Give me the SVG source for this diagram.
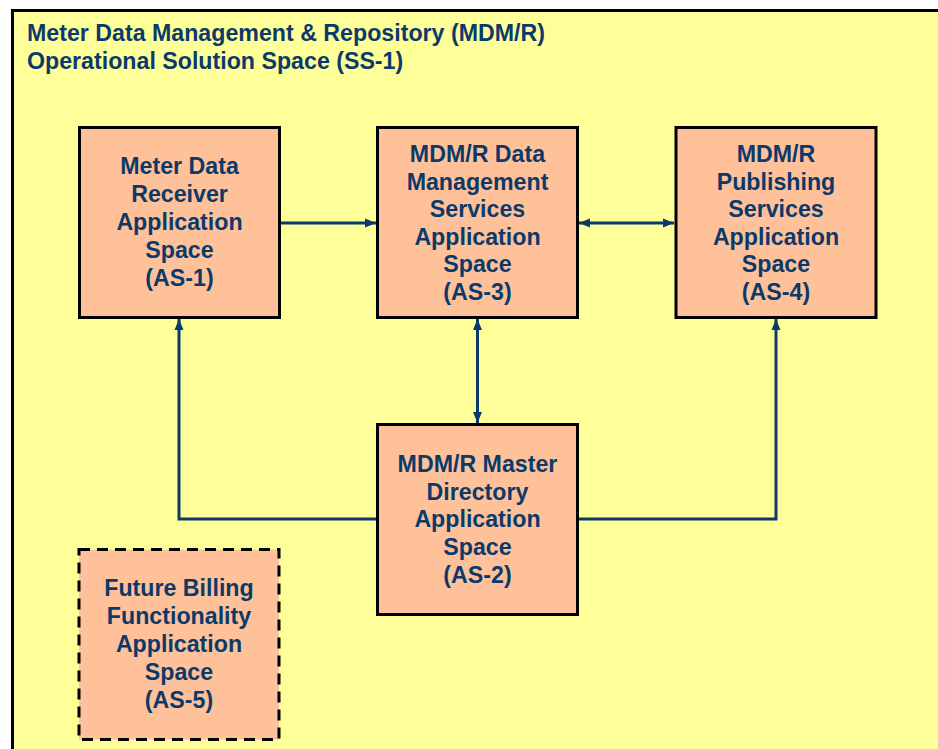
<svg xmlns="http://www.w3.org/2000/svg" width="938" height="749" viewBox="0 0 938 749">
<defs>
<marker id="arr" viewBox="0 0 11 10" refX="11" refY="5" markerWidth="11" markerHeight="10" markerUnits="userSpaceOnUse" orient="auto-start-reverse">
<path d="M0,0.5 L11,5 L0,9.5 Z" fill="#0B3A6A"/>
</marker>
</defs>
<style>
.node{fill:#FFC199;stroke:#000;stroke-width:3}
.dash{stroke-dasharray:11 7}
.t{font-family:"Liberation Sans",Arial,sans-serif;font-weight:bold;font-size:23.2px;fill:#0B3A6A;text-anchor:middle}
.title{font-family:"Liberation Sans",Arial,sans-serif;font-weight:bold;font-size:23.2px;fill:#0B3A6A}
.c{fill:none;stroke:#0B3A6A;stroke-width:3}
</style>
<rect x="0" y="0" width="938" height="749" fill="#fff"/>
<rect id="ss1" x="12.5" y="10.5" width="940" height="760" fill="#FFFF99" stroke="#000" stroke-width="3"/>
<text class="title" x="27" y="41">Meter Data Management &amp; Repository (MDM/R)</text>
<text class="title" x="27" y="69">Operational Solution Space (SS-1)</text>
<g id="connectors">
<path class="c" d="M280,223 H376" marker-end="url(#arr)"/>
<path class="c" d="M579,223 H674" marker-start="url(#arr)" marker-end="url(#arr)"/>
<path class="c" d="M477.5,319 V423" marker-start="url(#arr)" marker-end="url(#arr)"/>
<path class="c" d="M377,519 H179 V319" marker-end="url(#arr)"/>
<path class="c" d="M578,519 H776 V319" marker-end="url(#arr)"/>
</g>
<g id="as1">
<rect class="node" x="79.5" y="127.5" width="200" height="190"/>
<text class="t" x="179.5" y="174">Meter Data</text>
<text class="t" x="179.5" y="202">Receiver</text>
<text class="t" x="179.5" y="230">Application</text>
<text class="t" x="179.5" y="258">Space</text>
<text class="t" x="179.5" y="286">(AS-1)</text>
</g>
<g id="as3">
<rect class="node" x="377.5" y="127.5" width="200" height="190"/>
<text class="t" x="477.5" y="162">MDM/R Data</text>
<text class="t" x="477.5" y="189.6">Management</text>
<text class="t" x="477.5" y="217.2">Services</text>
<text class="t" x="477.5" y="244.8">Application</text>
<text class="t" x="477.5" y="272.4">Space</text>
<text class="t" x="477.5" y="300">(AS-3)</text>
</g>
<g id="as4">
<rect class="node" x="676" y="127.5" width="200" height="190"/>
<text class="t" x="776" y="162">MDM/R</text>
<text class="t" x="776" y="189.6">Publishing</text>
<text class="t" x="776" y="217.2">Services</text>
<text class="t" x="776" y="244.8">Application</text>
<text class="t" x="776" y="272.4">Space</text>
<text class="t" x="776" y="300">(AS-4)</text>
</g>
<g id="as2">
<rect class="node" x="377.5" y="424.5" width="200" height="190"/>
<text class="t" x="477.5" y="472">MDM/R Master</text>
<text class="t" x="477.5" y="499.5">Directory</text>
<text class="t" x="477.5" y="527">Application</text>
<text class="t" x="477.5" y="555">Space</text>
<text class="t" x="477.5" y="583">(AS-2)</text>
</g>
<g id="as5">
<rect class="node dash" x="79" y="549.5" width="200" height="190"/>
<text class="t" x="179" y="596">Future Billing</text>
<text class="t" x="179" y="624">Functionality</text>
<text class="t" x="179" y="652">Application</text>
<text class="t" x="179" y="680">Space</text>
<text class="t" x="179" y="708">(AS-5)</text>
</g>
</svg>
